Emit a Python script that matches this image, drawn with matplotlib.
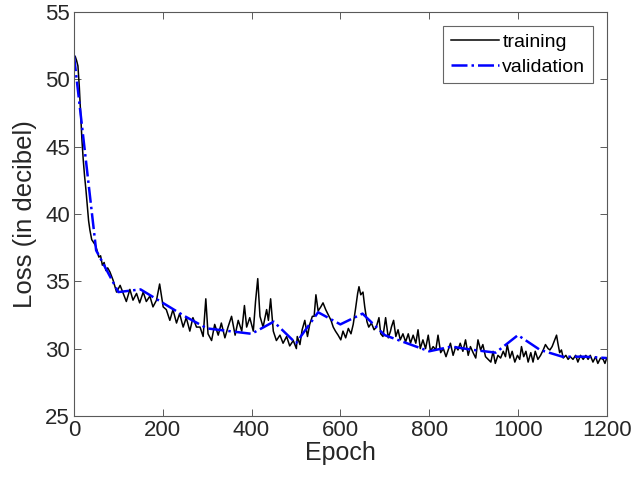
import matplotlib
matplotlib.use("Agg")
import matplotlib.pyplot as plt

# --- data ---
train_epoch = [0, 3, 6, 9, 12, 15, 18, 21, 24, 27, 30, 33, 36, 40, 44, 48, 52, 56, 60, 64,
               68, 72, 76, 81, 88, 96, 104, 111, 118, 126, 133, 141, 148, 156, 163, 171, 178,
               186, 193, 201, 208, 216, 223, 231, 238, 246, 253, 261, 268, 276, 284, 291, 297,
               302, 310, 317, 325, 332, 340, 347, 355, 363, 370, 378, 384, 389, 396, 404, 409,
               414, 419, 426, 434, 438, 443, 449, 456, 464, 471, 479, 486, 494, 501, 503, 509,
               514, 520, 526, 531, 537, 541, 545, 550, 556, 561, 567, 573, 579, 584, 589, 595,
               601, 606, 612, 618, 624, 629, 634, 639, 642, 646, 651, 655, 660, 664, 670, 676,
               681, 687, 691, 696, 702, 708, 713, 715, 720, 725, 730, 735, 741, 747, 753, 758,
               764, 770, 775, 780, 786, 792, 798, 803, 809, 815, 820, 826, 832, 838, 843, 848,
               854, 860, 865, 870, 876, 882, 888, 893, 899, 905, 910, 916, 921, 927, 933, 939,
               944, 949, 955, 961, 967, 972, 976, 982, 987, 993, 999, 1004, 1008, 1013, 1018,
               1023, 1029, 1034, 1039, 1045, 1051, 1057, 1062, 1068, 1072, 1077, 1083, 1087,
               1090, 1094, 1098, 1102, 1108, 1113, 1118, 1124, 1130, 1135, 1141, 1147, 1153,
               1158, 1163, 1169, 1175, 1180, 1186, 1192, 1196, 1200]
train_loss = [51.8, 51.7, 51.4, 51.0, 49.5, 47.5, 45.5, 44.0, 42.8, 41.8, 40.6, 39.5, 38.8,
              38.1, 37.9, 37.7, 37.3, 36.8, 36.9, 36.2, 36.4, 35.8, 36.0, 35.7, 35.1, 34.2,
              34.7, 34.1, 33.5, 34.4, 33.6, 34.1, 33.4, 34.2, 33.5, 33.9, 33.1, 33.6, 34.8,
              33.1, 32.9, 32.1, 32.9, 31.9, 32.6, 31.6, 32.3, 31.3, 32.3, 31.6, 31.6, 30.9,
              33.7, 31.1, 30.6, 31.8, 31.0, 31.9, 30.8, 31.6, 32.4, 31.0, 32.1, 31.3, 33.2,
              31.6, 32.3, 31.3, 33.5, 35.2, 32.4, 31.6, 32.9, 32.1, 33.7, 31.3, 30.6, 31.0,
              30.4, 30.9, 30.2, 30.6, 30.0, 30.9, 30.3, 31.4, 32.1, 30.9, 31.8, 32.4, 32.4,
              34.0, 32.8, 33.1, 33.4, 32.9, 32.5, 32.1, 31.6, 31.3, 31.0, 30.65, 31.3, 30.8,
              31.5, 31.1, 31.8, 32.9, 34.1, 34.6, 34.0, 34.2, 33.1, 32.0, 31.6, 31.9, 31.4,
              31.6, 32.3, 31.1, 30.9, 32.3, 30.8, 31.3, 31.6, 32.1, 30.9, 31.4, 30.65, 31.1,
              30.5, 31.1, 30.4, 31.0, 30.4, 31.4, 30.0, 30.65, 30.0, 31.0, 29.8, 30.15, 29.9,
              31.0, 29.7, 30.0, 29.4, 29.9, 30.4, 29.5, 30.15, 29.9, 30.4, 29.8, 30.65, 29.5,
              30.15, 29.7, 29.3, 30.65, 29.9, 30.3, 29.4, 29.2, 29.0, 29.8, 28.9, 29.5, 29.3,
              29.8, 29.4, 30.3, 29.3, 29.8, 29.0, 29.5, 29.2, 30.15, 29.4, 29.8, 29.0, 29.7,
              29.0, 29.8, 29.2, 29.5, 29.9, 30.3, 30.0, 29.9, 30.15, 30.65, 31.0, 30.4, 29.7,
              29.9, 29.3, 29.5, 29.2, 29.4, 29.2, 29.5, 29.0, 29.5, 29.2, 29.5, 29.2, 29.5,
              29.0, 29.4, 28.9, 29.3, 29.2, 28.9, 29.3]

val_epoch = [0, 50, 100, 150, 200, 250, 300, 350, 400, 450, 500, 550, 600, 650, 700, 750,
             800, 850, 900, 950, 1000, 1050, 1100, 1150, 1200]
val_loss = [51.8, 37.3, 34.2, 34.4, 33.4, 32.4, 31.5, 31.3, 31.1, 32.0, 30.4, 32.7, 31.8,
            32.6, 31.0, 30.4, 29.8, 30.15, 29.9, 29.7, 31.0, 29.9, 29.4, 29.4, 29.3]

x_ticks = [0, 200, 400, 600, 800, 1000, 1200]
y_ticks = [25, 30, 35, 40, 45, 50, 55]

plt.rcParams['font.family'] = ['Liberation Sans', 'DejaVu Sans']

fig = plt.figure(figsize=(6.32, 4.87), dpi=100)
ax = fig.add_axes([0.117, 0.146, 0.843, 0.829])

ax.plot(train_epoch, train_loss, color='black', lw=1.1, label='training')
ax.plot(val_epoch, val_loss, color=(0, 0, 1), lw=1.8, ls='-.', label='validation')

ax.set_xlim(0, 1200)
ax.set_ylim(25, 55)
ax.set_xticks(x_ticks)
ax.set_yticks(y_ticks)
ax.tick_params(direction='in', length=5, width=0.6, color='0.25', labelsize=16,
               labelcolor='#262626', top=True, right=True, pad=3)
for s in ax.spines.values():
    s.set_color('0.35')
    s.set_linewidth(0.8)

ax.set_xlabel('Epoch', fontsize=18, color='#262626', labelpad=0)
ax.set_ylabel('Loss (in decibel)', fontsize=18.5, color='#262626', labelpad=6)

leg = ax.legend(loc='upper right', fontsize=14, frameon=True, fancybox=False,
                handlelength=2.5, handletextpad=0.15, borderpad=0.4, labelspacing=0.35,
                borderaxespad=0.7)
leg.get_frame().set_edgecolor('0.25')
leg.get_frame().set_linewidth(0.8)

fig.savefig('out.png', dpi=100)
